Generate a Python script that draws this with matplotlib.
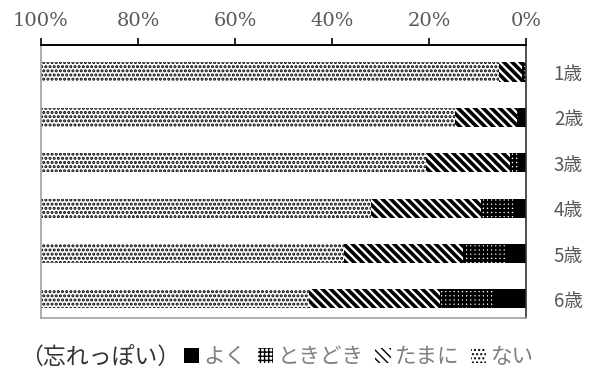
import matplotlib
matplotlib.use("Agg")
import matplotlib.pyplot as plt
import numpy as np

ages = ["1歳", "2歳", "3歳", "4歳", "5歳", "6歳"]
yoku = [0.0, 1.5, 1.6, 2.4, 4.3, 6.6]        # よく
tokidoki = [0.8, 0.4, 1.7, 6.8, 8.6, 11.1]   # ときどき
tamani = [4.8, 12.7, 17.3, 22.8, 24.6, 27.0]  # たまに
nai = [100 - a - b - c for a, b, c in zip(yoku, tokidoki, tamani)]  # ない
series_labels = ["よく", "ときどき", "たまに", "ない"]
x_ticks = [100, 80, 60, 40, 20, 0]
x_ticklabels = ["100%", "80%", "60%", "40%", "20%", "0%"]

jp = ["Noto Sans CJK JP", "DejaVu Sans"]
gray_txt = "#595959"

fig = plt.figure(figsize=(5.94, 3.76), dpi=100)
ax = fig.add_axes([41 / 594, 1 - 318 / 376, (526 - 41) / 594, (318 - 45) / 376])

y = np.arange(len(ages))
h = 0.42
styles = [
    dict(facecolor="black", edgecolor="black", hatch=None, lw=1.0),
    dict(facecolor="white", edgecolor="black", hatch="++++", lw=2.0),
    dict(facecolor="white", edgecolor="black", hatch="\\\\\\\\", lw=2.6),
    dict(facecolor="white", edgecolor="black", hatch="....", lw=1.5),
]
values = [yoku, tokidoki, tamani, nai]
left = np.zeros(len(ages))
handles = []
for vals, st, lab in zip(values, styles, series_labels):
    with plt.rc_context({"hatch.linewidth": st["lw"]}):
        bars = ax.barh(y, vals, left=left, height=h, facecolor=st["facecolor"],
                       edgecolor=st["edgecolor"], hatch=st["hatch"], linewidth=0,
                       label=lab)
    handles.append(bars)
    left += np.array(vals)

ax.set_xlim(100, 0)
ax.set_ylim(5.42, -0.595)
ax.xaxis.tick_top()
ax.set_xticks(x_ticks)
ax.set_xticklabels(x_ticklabels, family="DejaVu Serif", fontsize=14, color=gray_txt)
ax.tick_params(axis="x", direction="out", length=5, width=1.2, color="black", pad=6)

ax.yaxis.tick_right()
ax.set_yticks(y)
ax.set_yticklabels(ages, family=jp, fontsize=13.5, color=gray_txt)
ax.tick_params(axis="y", length=0, pad=20)

ax.spines["top"].set_color("black")
ax.spines["top"].set_linewidth(1.4)
ax.spines["right"].set_color("#333333")
ax.spines["right"].set_linewidth(1.2)
ax.spines["left"].set_color("#a0a0a0")
ax.spines["left"].set_linewidth(1.2)
ax.spines["bottom"].set_color("#a0a0a0")
ax.spines["bottom"].set_linewidth(1.2)

fig.text(20 / 594, 1 - 357 / 376, "（忘れっぽい）", family=jp, fontsize=16.5,
         color="#333333", va="center", ha="left")
leg = fig.legend(handles, series_labels, loc="center left",
                 bbox_to_anchor=(184 / 594, 1 - 357 / 376), ncol=4, frameon=False,
                 prop={"family": jp, "size": 15.5}, handlelength=0.7, handleheight=0.7,
                 handletextpad=0.2, columnspacing=0.55, borderaxespad=0, borderpad=0)
for t in leg.get_texts():
    t.set_color("#7f7f7f")

fig.savefig("out.png", dpi=100)
